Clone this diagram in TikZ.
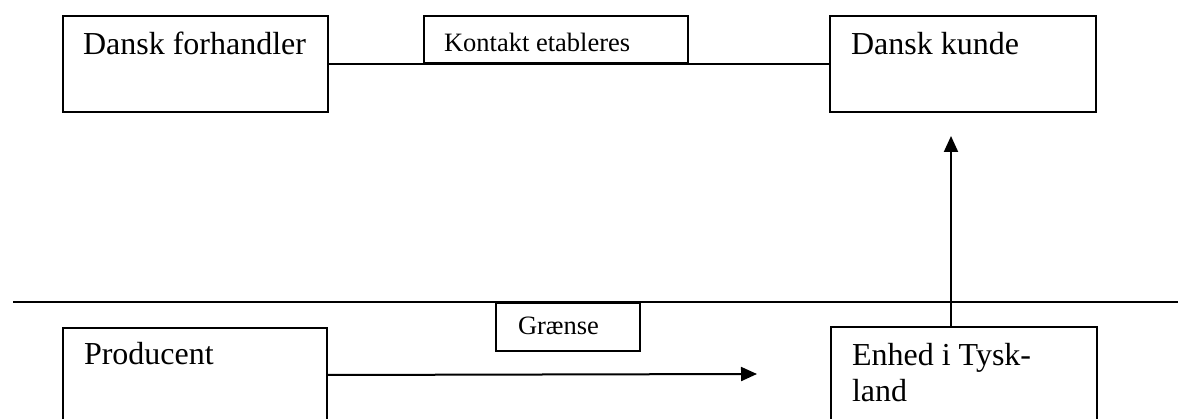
\documentclass[tikz,border=0pt]{standalone}
\usepackage{fontspec}
\setmainfont{Liberation Serif}
\usetikzlibrary{arrows.meta}

\begin{document}
\begin{tikzpicture}[x=1pt,y=-1pt,
  line width=2pt,
  box/.style={draw, rectangle, inner sep=0pt, anchor=north west},
  bigtxt/.style={anchor=base west, inner sep=0pt, font=\fontsize{32}{36}\selectfont},
  smalltxt/.style={anchor=base west, inner sep=0pt, font=\fontsize{26.5}{32}\selectfont},
  flow/.style={-{Triangle[length=16pt,width=14pt]}}]
  \useasboundingbox (0,0) rectangle (1178,419);
  \clip (0,0) rectangle (1178,419);

  % upper row: Danish side
  \node[box, minimum width=265, minimum height=96] (forh) at (62,15) {};
  \node[bigtxt] (forhT) at (82,55) {Dansk forhandler};
  \node[box, minimum width=266, minimum height=96] (kunde) at (829,15) {};
  \node[bigtxt] (kundeT) at (850,55) {Dansk kunde};
  \draw (forh.east) -- (kunde.west);
  \node[box, minimum width=264, minimum height=47] (kontakt) at (423,15) {};
  \node[smalltxt] (kontaktT) at (443,52) {Kontakt etableres};

  % the border
  \coordinate (bl) at (13,302);
  \coordinate (br) at (1178,302);
  \draw (bl) -- (br);
  \node[box, minimum width=144, minimum height=48] (graense) at (495,302) {};
  \node[smalltxt] (graenseT) at (517,335) {Grænse};

  % lower row: German side
  \node[box, minimum width=264, minimum height=94] (prod) at (62,327) {};
  \node[bigtxt] (prodT) at (83,365) {Producent};
  \node[box, minimum width=266, minimum height=120] (enhed) at (830,326) {};
  \node[bigtxt] (enhedT1) at (851,366) {Enhed i Tysk-};
  \node[bigtxt] (enhedT2) at (851,402) {land};

  % flows
  \coordinate (pend) at (757,374);
  \draw[flow] (prod.east) -- (pend);
  \coordinate (up) at (951,136);
  \draw[flow] (enhed.north -| up) -- (up);
\end{tikzpicture}
\end{document}
